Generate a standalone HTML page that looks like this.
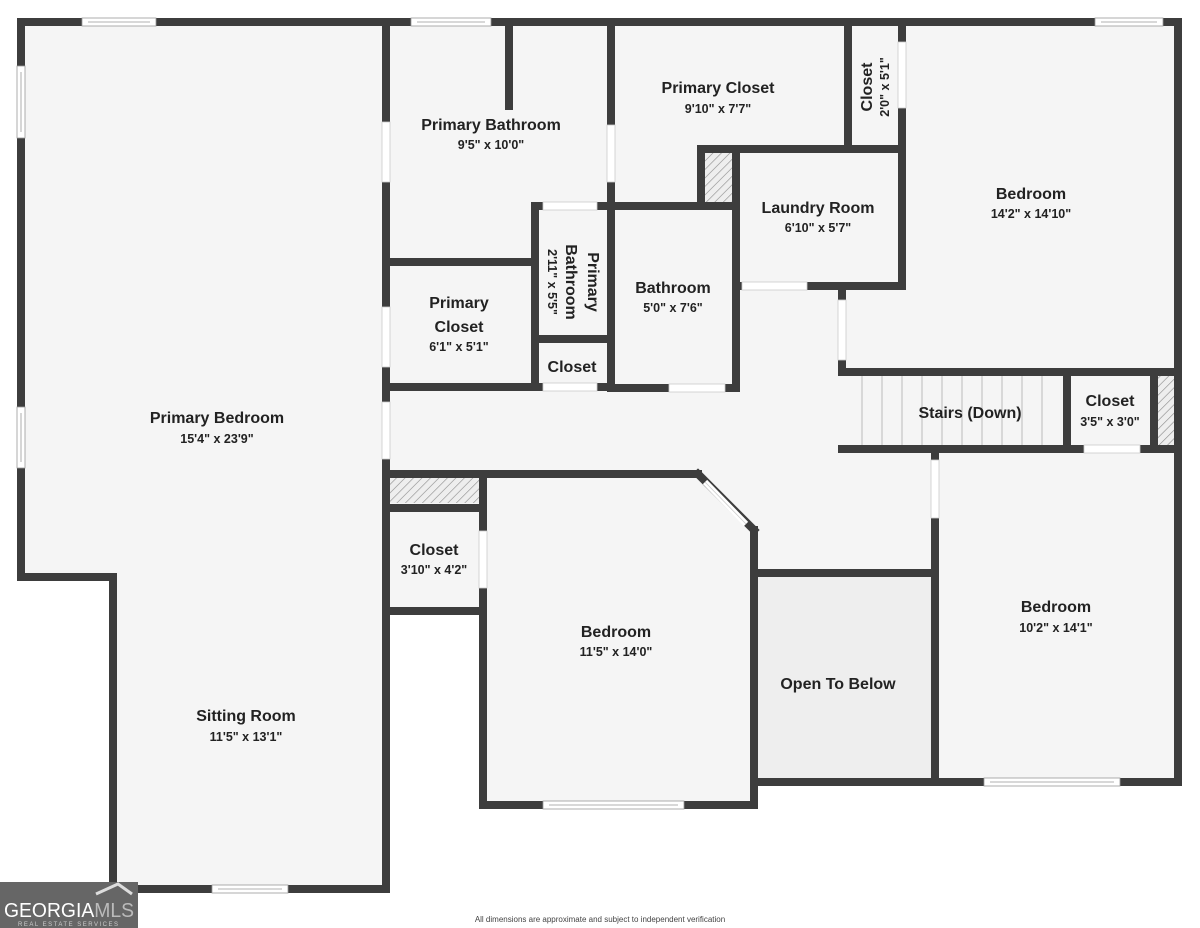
<!DOCTYPE html>
<html><head><meta charset="utf-8"><style>
body{margin:0;background:#fff;width:1200px;height:928px;overflow:hidden}
svg{display:block}
.t{font-family:"Liberation Sans",sans-serif;font-weight:bold;font-size:16px;fill:#222;text-anchor:middle}
.d{font-family:"Liberation Sans",sans-serif;font-weight:bold;font-size:12.5px;fill:#222;text-anchor:middle}
</style></head><body>
<svg width="1200" height="928" viewBox="0 0 1200 928">
<defs><pattern id="h" width="6" height="6" patternUnits="userSpaceOnUse" patternTransform="rotate(45)"><rect width="6" height="6" fill="#eee"/><line x1="0" y1="0" x2="0" y2="6" stroke="#888" stroke-width="1.2"/></pattern></defs>
<polygon points="21,22 1178,22 1178,782 754,782 754,805 483,805 483,611 386,611 386,889 113,889 113,577 21,577" fill="#f5f5f5"/>
<rect x="758" y="577" width="173" height="201" fill="#eeeeee"/>
<rect x="702" y="153" width="30" height="49" fill="url(#h)"/>
<rect x="390" y="478" width="89" height="25" fill="url(#h)"/>
<rect x="1158" y="376" width="16" height="69" fill="url(#h)"/>
<g stroke="#bbb" stroke-width="1">
<line x1="862" y1="376" x2="862" y2="445"/><line x1="882" y1="376" x2="882" y2="445"/><line x1="902" y1="376" x2="902" y2="445"/><line x1="922" y1="376" x2="922" y2="445"/><line x1="942" y1="376" x2="942" y2="445"/><line x1="962" y1="376" x2="962" y2="445"/><line x1="982" y1="376" x2="982" y2="445"/><line x1="1002" y1="376" x2="1002" y2="445"/><line x1="1022" y1="376" x2="1022" y2="445"/><line x1="1042" y1="376" x2="1042" y2="445"/>
</g>
<g stroke="#3d3d3d" stroke-width="8" stroke-linecap="square" fill="none">
<polyline points="21,577 21,22 1178,22 1178,782 754,782"/>
<polyline points="21,577 113,577 113,889 386,889 386,22"/>
<line x1="509" y1="22" x2="509" y2="106"/>
<line x1="386" y1="262" x2="535" y2="262"/>
<line x1="535" y1="206" x2="535" y2="387"/>
<line x1="386" y1="387" x2="611" y2="387"/>
<line x1="535" y1="339" x2="611" y2="339"/>
<line x1="535" y1="206" x2="736" y2="206"/>
<line x1="611" y1="22" x2="611" y2="388"/>
<line x1="611" y1="388" x2="736" y2="388"/>
<line x1="701" y1="149" x2="701" y2="206"/>
<line x1="701" y1="149" x2="902" y2="149"/>
<line x1="736" y1="149" x2="736" y2="388"/>
<line x1="848" y1="22" x2="848" y2="149"/>
<line x1="902" y1="22" x2="902" y2="286"/>
<line x1="736" y1="286" x2="902" y2="286"/>
<line x1="842" y1="286" x2="842" y2="372"/>
<line x1="842" y1="372" x2="1178" y2="372"/>
<line x1="842" y1="449" x2="1178" y2="449"/>
<line x1="1067" y1="372" x2="1067" y2="449"/>
<line x1="1154" y1="372" x2="1154" y2="449"/>
<line x1="935" y1="449" x2="935" y2="782"/>
<line x1="754" y1="573" x2="935" y2="573"/>
<line x1="386" y1="474" x2="698" y2="474"/>
<line x1="698" y1="474" x2="754" y2="530"/>
<line x1="754" y1="530" x2="754" y2="805"/>
<line x1="483" y1="474" x2="483" y2="805"/>
<line x1="483" y1="805" x2="754" y2="805"/>
<line x1="386" y1="508" x2="483" y2="508"/>
<line x1="386" y1="611" x2="483" y2="611"/>
</g>
<!-- doors (gaps) -->
<g fill="#fff" stroke="#ccc" stroke-width="0.8">
<rect x="382" y="122" width="8" height="60"/>
<rect x="382" y="307" width="8" height="60"/>
<rect x="382" y="402" width="8" height="57"/>
<rect x="607" y="125" width="8" height="57"/>
<rect x="543" y="202" width="54" height="8"/>
<rect x="543" y="383" width="54" height="8"/>
<rect x="669" y="384" width="56" height="8"/>
<rect x="742" y="282" width="65" height="8"/>
<rect x="838" y="300" width="8" height="60"/>
<rect x="898" y="42" width="8" height="66"/>
<rect x="1084" y="445" width="56" height="8"/>
<rect x="931" y="460" width="8" height="58"/>
<rect x="479" y="531" width="8" height="57"/>
</g>
<line x1="705" y1="482" x2="746" y2="524" stroke="#fff" stroke-width="6"/>
<line x1="705" y1="482" x2="746" y2="524" stroke="#ccc" stroke-width="0.8"/>
<!-- windows -->
<g fill="#fff" stroke="#999" stroke-width="0.8">
<rect x="82" y="18" width="74" height="8"/><line x1="88" y1="22" x2="150" y2="22"/>
<rect x="411" y="18" width="80" height="8"/><line x1="417" y1="22" x2="485" y2="22"/>
<rect x="1095" y="18" width="68" height="8"/><line x1="1101" y1="22" x2="1157" y2="22"/>
<rect x="17" y="66" width="8" height="72"/><line x1="21" y1="72" x2="21" y2="132"/>
<rect x="17" y="407" width="8" height="61"/><line x1="21" y1="413" x2="21" y2="462"/>
<rect x="212" y="885" width="76" height="8"/><line x1="218" y1="889" x2="282" y2="889"/>
<rect x="543" y="801" width="141" height="8"/><line x1="549" y1="805" x2="678" y2="805"/>
<rect x="984" y="778" width="136" height="8"/><line x1="990" y1="782" x2="1114" y2="782"/>
</g>
<text class="t" x="217" y="423">Primary Bedroom</text><text class="d" x="217" y="443">15'4" x 23'9"</text>
<text class="t" x="491" y="130">Primary Bathroom</text><text class="d" x="491" y="149">9'5" x 10'0"</text>
<text class="t" x="459" y="308">Primary</text><text class="t" x="459" y="332">Closet</text><text class="d" x="459" y="351">6'1" x 5'1"</text>
<g transform="translate(572,282) rotate(90)"><text class="t" x="0" y="-16">Primary</text><text class="t" x="0" y="6">Bathroom</text><text class="d" x="0" y="24">2'11" x 5'5"</text></g>
<text class="t" x="572" y="372">Closet</text>
<text class="t" x="718" y="93">Primary Closet</text><text class="d" x="718" y="113">9'10" x 7'7"</text>
<g transform="translate(875,87) rotate(-90)"><text class="t" x="0" y="-3">Closet</text><text class="d" x="0" y="14">2'0" x 5'1"</text></g>
<text class="t" x="818" y="213">Laundry Room</text><text class="d" x="818" y="232">6'10" x 5'7"</text>
<text class="t" x="673" y="293">Bathroom</text><text class="d" x="673" y="312">5'0" x 7'6"</text>
<text class="t" x="1031" y="199">Bedroom</text><text class="d" x="1031" y="218">14'2" x 14'10"</text>
<text class="t" x="970" y="418">Stairs (Down)</text>
<text class="t" x="1110" y="406">Closet</text><text class="d" x="1110" y="426">3'5" x 3'0"</text>
<text class="t" x="434" y="555">Closet</text><text class="d" x="434" y="574">3'10" x 4'2"</text>
<text class="t" x="616" y="637">Bedroom</text><text class="d" x="616" y="656">11'5" x 14'0"</text>
<text class="t" x="838" y="689">Open To Below</text>
<text class="t" x="1056" y="612">Bedroom</text><text class="d" x="1056" y="632">10'2" x 14'1"</text>
<text class="t" x="246" y="721">Sitting Room</text><text class="d" x="246" y="741">11'5" x 13'1"</text>
<text x="600" y="922" font-family="Liberation Sans,sans-serif" font-size="8" fill="#444" text-anchor="middle">All dimensions are approximate and subject to independent verification</text>
<rect x="0" y="882" width="138" height="46" fill="#666"/>
<polyline points="96,894 118,884 132,894" fill="none" stroke="#ddd" stroke-width="3"/>
<text x="4" y="917" font-family="Liberation Sans,sans-serif" font-size="20" fill="#fff" textLength="130" lengthAdjust="spacingAndGlyphs">GEORGIA<tspan fill="#bbb">MLS</tspan></text>
<text x="18" y="926" font-family="Liberation Sans,sans-serif" font-size="6" fill="#ccc" letter-spacing="1.5">REAL ESTATE SERVICES</text>
</svg>
</body></html>
